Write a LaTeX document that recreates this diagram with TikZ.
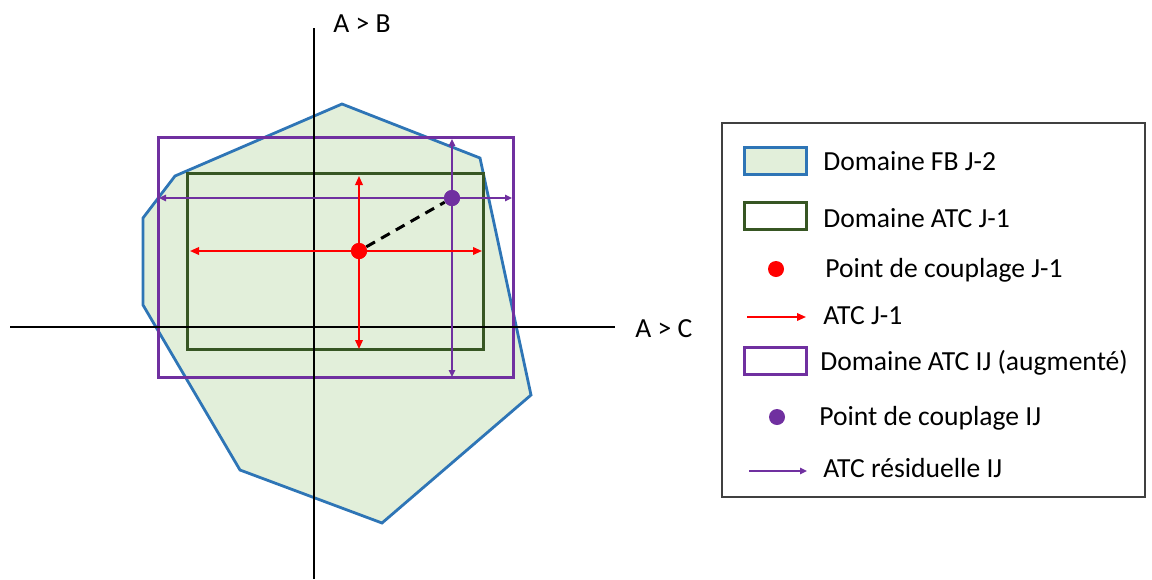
\documentclass[tikz,border=0pt]{standalone}
\usepackage{fontspec}
\setmainfont{Carlito}
\usepackage{tikz}
\usetikzlibrary{arrows.meta, positioning}
\definecolor{fbblue}{RGB}{46,117,182}
\definecolor{fbfill}{RGB}{226,239,218}
\definecolor{atcgreen}{RGB}{55,86,35}
\definecolor{ijpurple}{RGB}{112,48,160}

\begin{document}
\begin{tikzpicture}[x=0.5pt, y=-0.5pt,
			every node/.style={font=\fontsize{13.8}{16}\selectfont, inner sep=0pt},
			axe/.style={line width=1.4pt, black},
			fb/.style={draw=fbblue, fill=fbfill, line width=1.4pt},
			atc/.style={draw=atcgreen, line width=1.5pt},
			atcij/.style={draw=ijpurple, line width=1.5pt},
			fleche/.style={-{Triangle[length=4.5pt, width=3.8pt]}, red, line width=0.85pt},
			flecheij/.style={-{Triangle[length=3.5pt, width=3.2pt]}, ijpurple, line width=0.7pt},
			couplage/.style={circle, minimum size=8pt, fill=#1},
			swatch/.style={minimum width=31pt, minimum height=13.5pt, line width=1.5pt}]
			
			\useasboundingbox (0,0) rectangle (1152,579);
			
			% domaines
			\draw[fb] (342,104) -- (480,158) -- (531,395) -- (382,523) -- (240,470) -- (143,305) -- (143,218) -- (175,176) -- cycle;
			\draw[atcij] (158,137) rectangle (513,377);
			\draw[atc] (187,173) rectangle (483,349);
			
			% axes
			\draw[axe] (314,28) -- (314,579);
			\draw[axe] (10,327) -- (615,327);
			\node (ab) [anchor=base west] at (333,32) {A > B};
			\node (ac) [anchor=base west] at (635,337) {A > C};
			
			% points de couplage et ATC
			\node (pj) [couplage=red] at (359,251) {};
			\node (pij) [couplage=ijpurple] at (452,198) {};
			\coordinate (pjg) at (190,251);
			\coordinate (pjd) at (482,251);
			\coordinate (pjh) at (359,176);
			\coordinate (pjb) at (359,349);
			\coordinate (pijg) at (159,198);
			\coordinate (pijd) at (512,198);
			\coordinate (pijh) at (452,139);
			\coordinate (pijb) at (452,377);
			\draw[flecheij] (pij.center) -- (pijg);
			\draw[flecheij] (pij.center) -- (pijd);
			\draw[flecheij] (pij.center) -- (pijh);
			\draw[flecheij] (pij.center) -- (pijb);
			\draw[fleche] (pj.center) -- (pjg);
			\draw[fleche] (pj.center) -- (pjd);
			\draw[fleche] (pj.center) -- (pjh);
			\draw[fleche] (pj.center) -- (pjb);
			\draw[dashed, line width=1.5pt, dash pattern=on 5pt off 3.5pt] (pj) -- (pij);
			\node[couplage=red] at (pj) {};
			\node[couplage=ijpurple] at (pij) {};
			
			% legende
			\draw[draw=black!75, line width=0.6pt] (722,123) rectangle (1145,497);
			\node (lfb) [swatch, draw=fbblue, fill=fbfill] at (775,160.5) {};
			\node (lfbt) [anchor=base west] at (823,170) {Domaine FB J-2};
			\node (latc) [swatch, draw=atcgreen] at (775,216) {};
			\node (latct) [anchor=base west] at (823,227) {Domaine ATC J-1};
			\node (lpj) [couplage=red] at (776,269) {};
			\node (lpjt) [anchor=base west] at (825,277) {Point de couplage J-1};
			\coordinate (lfa) at (747,317);
			\coordinate (lfb2) at (806,317);
			\draw[fleche] (lfa) -- (lfb2);
			\node (lft) [anchor=base west] at (823,324) {ATC J-1};
			\node (lij) [swatch, draw=ijpurple] at (775.5,361) {};
			\node (lijt) [anchor=base west] at (820,370) {Domaine ATC IJ (augment\'e)};
			\node (lpij) [couplage=ijpurple] at (777,417) {};
			\node (lpijt) [anchor=base west] at (819,425) {Point de couplage IJ};
			\coordinate (lra) at (749,471);
			\coordinate (lrb) at (807,471);
			\draw[flecheij] (lra) -- (lrb);
			\node (lrt) [anchor=base west] at (823,477) {ATC résiduelle IJ};
		\end{tikzpicture}
\end{document}
